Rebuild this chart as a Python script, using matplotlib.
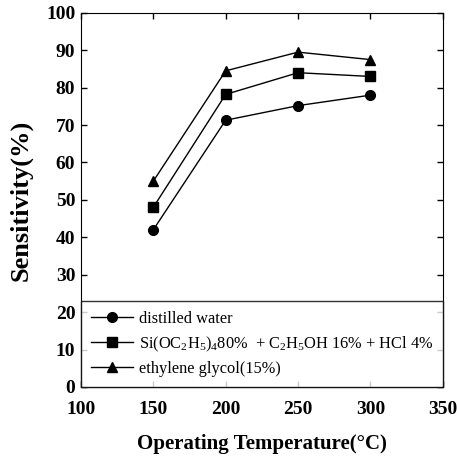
import matplotlib
matplotlib.use('Agg')
import matplotlib.pyplot as plt

plt.rcParams['font.family'] = 'Liberation Serif'
plt.rcParams['mathtext.fontset'] = 'custom'
plt.rcParams['mathtext.rm'] = 'Liberation Serif'
plt.rcParams['mathtext.it'] = 'Liberation Serif:italic'
plt.rcParams['mathtext.bf'] = 'Liberation Serif:bold'

temps = [150, 200, 250, 300]
water = [42, 71.3, 75.2, 78]
teos = [48, 78.2, 84, 83]
glycol = [55, 84.5, 89.5, 87.5]

labels = ['distilled water',
          r'Si(OC$_2$H$_5$)$_4$80%  + C$_2$H$_5$OH 16% + HCl 4%',
          'ethylene glycol(15%)']

fig = plt.figure(figsize=(4.57, 4.59), dpi=100)
ax = fig.add_axes([0.177, 0.157, 0.792, 0.815])

ax.plot(temps, water, 'k-o', lw=1, ms=7, label=labels[0])
ax.plot(temps, teos, 'k-s', lw=1, ms=7, label=labels[1])
ax.plot(temps, glycol, 'k-^', lw=1, ms=7.5, label=labels[2])

ax.set_xlim(100, 350)
ax.set_ylim(0, 100)
ax.set_xticks([100, 150, 200, 250, 300, 350])
ax.set_yticks(range(0, 101, 10))
ax.tick_params(direction='in', top=True, right=True, length=4, width=1, labelsize=14)
for lab in ax.get_xticklabels() + ax.get_yticklabels():
    lab.set_fontweight('bold')
ax.tick_params(axis='x', pad=10)
ax.tick_params(axis='y', pad=4)

ax.set_xlabel('Operating Temperature(°C)', fontsize=15, fontweight='bold', labelpad=12)
ax.set_ylabel('Sensitivity(%)', fontsize=19, fontweight='bold', labelpad=10)

# legend box spans the full width of the axes, bottom ~quarter
leg = ax.legend(loc='lower left', bbox_to_anchor=(0, 0, 1, 0.235), mode='expand',
                borderaxespad=0, fancybox=False, edgecolor='k', fontsize=11.8,
                handlelength=2.6, handletextpad=0.35, labelspacing=0.45,
                borderpad=0.6, frameon=True)
leg.get_frame().set_linewidth(1)

fig.savefig('out.png', dpi=100)
